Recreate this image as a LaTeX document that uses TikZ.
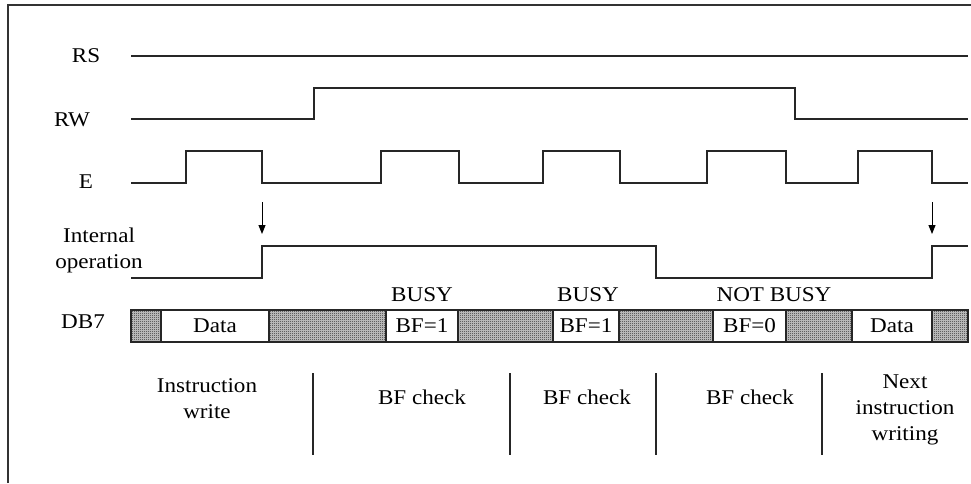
\documentclass[tikz,border=0pt]{standalone}
\usepackage{fontspec}
\setmainfont[FakeStretch=1.1]{Liberation Serif}
\usetikzlibrary{arrows.meta,patterns}
\pgfdeclarepatternformonly{finecheck}{\pgfqpoint{0pt}{0pt}}{\pgfqpoint{2pt}{2pt}}{\pgfqpoint{2pt}{2pt}}{%
  \pgfpathrectangle{\pgfqpoint{0pt}{0pt}}{\pgfqpoint{1pt}{1pt}}%
  \pgfpathrectangle{\pgfqpoint{1pt}{1pt}}{\pgfqpoint{1pt}{1pt}}%
  \pgfusepath{fill}}
\begin{document}
\begin{tikzpicture}[x=1pt,y=-1pt,
  sig/.style={line width=1.2pt,draw=black!85},
  frame/.style={line width=1.4pt,draw=black!80},
  lbl/.style={inner sep=0pt,font=\fontsize{21}{26}\selectfont,align=center},
  hatch/.style={pattern=finecheck,pattern color=black!85},
  cell/.style={draw=black!85,line width=1.2pt,fill=white,inner sep=0pt,minimum height=32pt,font=\fontsize{21}{26}\selectfont},
  sep/.style={line width=1.2pt,draw=black!85},
  evarrow/.style={line width=1pt,-{Triangle[length=9pt,width=7pt]}}]
\useasboundingbox (0,0) rectangle (971,483);
% frame (top and left edges)
\draw[frame] (8,483) -- (8,5) -- (971,5);
% signal labels
\node[lbl] (rs) at (86,56) {RS};
\node[lbl] (rw) at (72,120) {RW};
\node[lbl] (e) at (86,182) {E};
\node[lbl] (int) at (99,250) {Internal\\operation};
\node[lbl] (db7) at (83,322) {DB7};
% RS
\draw[sig] (131,56) -- (968,56);
% RW
\draw[sig] (131,119) -- (314,119) -- (314,88) -- (795,88) -- (795,119) -- (968,119);
% E
\draw[sig] (131,183) -- (186,183) -- (186,151) -- (262,151) -- (262,183)
  -- (381,183) -- (381,151) -- (459,151) -- (459,183)
  -- (543,183) -- (543,151) -- (620,151) -- (620,183)
  -- (707,183) -- (707,151) -- (786,151) -- (786,183)
  -- (858,183) -- (858,151) -- (932,151) -- (932,183) -- (968,183);
% Internal operation
\draw[sig] (131,278) -- (262,278) -- (262,246) -- (656,246) -- (656,278)
  -- (932,278) -- (932,246) -- (968,246);
% event arrows
\coordinate (a1s) at (262,202); \coordinate (a1e) at (262,234);
\coordinate (a2s) at (932,202); \coordinate (a2e) at (932,234);
\draw[evarrow] (a1s) -- (a1e);
\draw[evarrow] (a2s) -- (a2e);
% DB7 band
\path[fill=black!20] (131,310) rectangle (968,342);
\path[hatch] (131,310) rectangle (968,342);
\draw[sig] (131,310) rectangle (968,342);
\node[cell,minimum width=108pt] (d1) at (215,326) {Data};
\node[cell,minimum width=72pt] (b1) at (422,326) {BF=1};
\node[cell,minimum width=66pt] (b2) at (586,326) {BF=1};
\node[cell,minimum width=73pt] (b3) at (749.5,326) {BF=0};
\node[cell,minimum width=80pt] (d2) at (892,326) {Data};
% status labels
\node[lbl] (busy1) at (422,295) {BUSY};
\node[lbl] (busy2) at (588,295) {BUSY};
\node[lbl] (nbusy) at (774,295) {NOT BUSY};
% phase separators
\draw[sep] (313,373) -- (313,455);
\draw[sep] (510,373) -- (510,455);
\draw[sep] (656,373) -- (656,455);
\draw[sep] (822,373) -- (822,455);
% phase labels
\node[lbl] (p1) at (207,399) {Instruction\\write};
\node[lbl] (p2) at (422,397) {BF check};
\node[lbl] (p3) at (587,397) {BF check};
\node[lbl] (p4) at (750,397) {BF check};
\node[lbl] (p5) at (905,410) {Next\\instruction\\writing};
\end{tikzpicture}
\end{document}
